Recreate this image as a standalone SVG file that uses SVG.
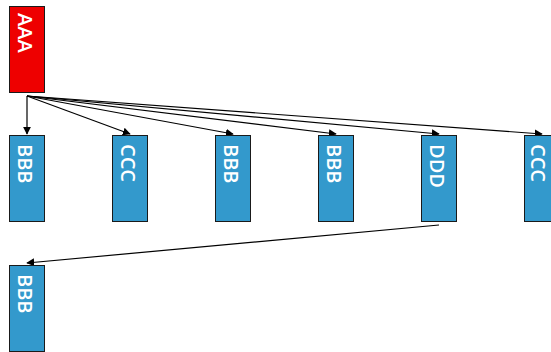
<svg xmlns="http://www.w3.org/2000/svg" width="551" height="352" viewBox="0 0 551 352">
<style>
.box{stroke:#1a1a1a;stroke-width:1}
.red{fill:#ee0000}
.blue{fill:#3399cc}
.lbl{font-family:"Open Sans","DejaVu Sans",sans-serif;font-size:20px;font-weight:600;fill:#ffffff;dominant-baseline:central}
.edge{stroke:#000;stroke-width:1.2;fill:none;marker-end:url(#arr)}
</style>
<defs>
<marker id="arr" viewBox="0 0 10 10" refX="9" refY="5" markerWidth="8" markerHeight="8" markerUnits="userSpaceOnUse" orient="auto">
<path d="M0,0 L10,5 L0,10 z" fill="#000"/>
</marker>
</defs>
<g id="edges">
<line class="edge" x1="27" y1="96" x2="27" y2="134"/>
<line class="edge" x1="27" y1="96" x2="130" y2="134"/>
<line class="edge" x1="27" y1="96" x2="233" y2="134"/>
<line class="edge" x1="27" y1="96" x2="336" y2="134"/>
<line class="edge" x1="27" y1="96" x2="439" y2="134"/>
<line class="edge" x1="27" y1="96" x2="542" y2="134"/>
<line class="edge" x1="439" y1="225" x2="27" y2="263"/>
</g>
<g id="aaa"><rect class="box red" x="9.5" y="6.5" width="35" height="86"/><text class="lbl" transform="translate(25.5,13) rotate(90)">AAA</text></g>
<g id="bbb1"><rect class="box blue" x="9.5" y="135.5" width="35" height="86"/><text class="lbl" transform="translate(25.5,144) rotate(90)">BBB</text></g>
<g id="ccc1"><rect class="box blue" x="112.5" y="135.5" width="35" height="86"/><text class="lbl" transform="translate(128.5,144) rotate(90)">CCC</text></g>
<g id="bbb2"><rect class="box blue" x="215.5" y="135.5" width="35" height="86"/><text class="lbl" transform="translate(231.5,144) rotate(90)">BBB</text></g>
<g id="bbb3"><rect class="box blue" x="318.5" y="135.5" width="35" height="86"/><text class="lbl" transform="translate(334.5,144) rotate(90)">BBB</text></g>
<g id="ddd"><rect class="box blue" x="421.5" y="135.5" width="35" height="86"/><text class="lbl" transform="translate(437.5,144) rotate(90)">DDD</text></g>
<g id="ccc2"><rect class="box blue" x="524.5" y="135.5" width="35" height="86"/><text class="lbl" transform="translate(538,144) rotate(90)">CCC</text></g>
<g id="bbb4"><rect class="box blue" x="9.5" y="265.5" width="35" height="86"/><text class="lbl" transform="translate(25.5,274) rotate(90)">BBB</text></g>
</svg>
